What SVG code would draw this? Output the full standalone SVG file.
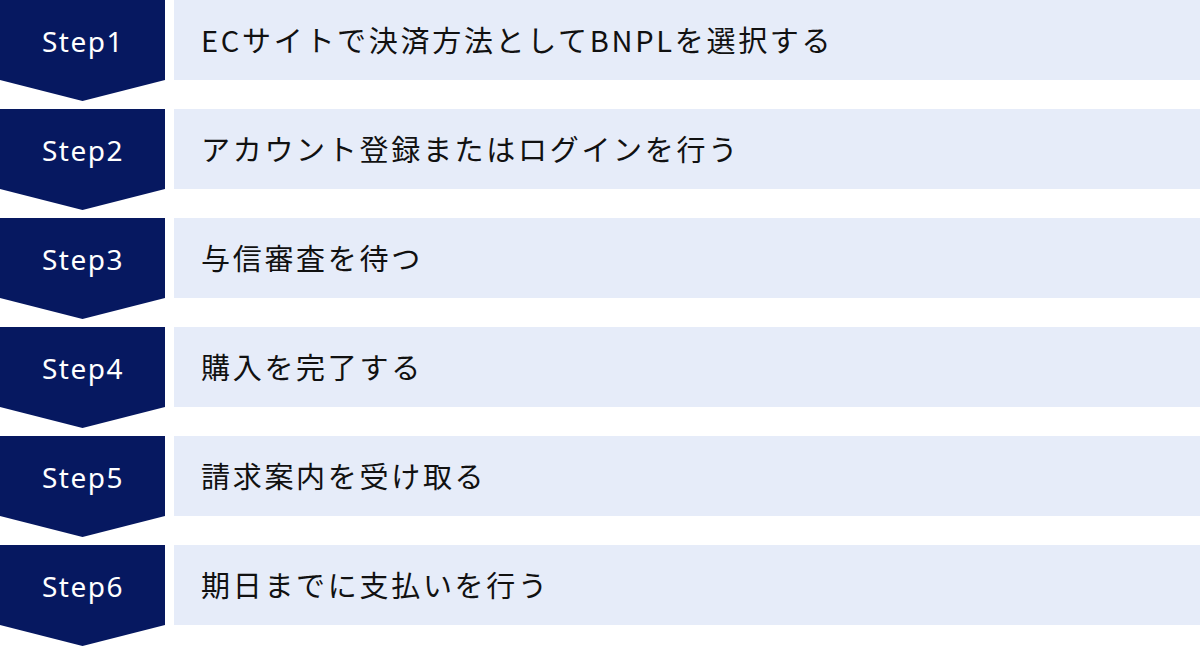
<svg xmlns="http://www.w3.org/2000/svg" width="1200" height="647" viewBox="0 0 1200 647">
<style>
.chev{fill:#061860}
.box{fill:#E6ECF9}
.step{font-family:"Noto Sans","Liberation Sans",sans-serif;font-size:28px;fill:#ffffff;text-anchor:middle;letter-spacing:1.5px}
.lbl{font-family:"Noto Sans CJK JP","Noto Sans",sans-serif;font-size:29px;fill:#111111;letter-spacing:2.7px}
</style>
<defs>
<polygon id="chevShape" points="0,0 165,0 165,80 82.5,101 0,80"/>
</defs>
<rect width="1200" height="647" fill="#ffffff"/>
<g id="connectors"></g>
<g id="step1" transform="translate(0,0)">
<use href="#chevShape" class="chev"/>
<rect class="box" x="174" y="0" width="1026" height="80"/>
<text class="step" x="83" y="52">Step1</text>
<text class="lbl" x="201" y="51.5">ECサイトで決済方法としてBNPLを選択する</text>
</g>
<g id="step2" transform="translate(0,109)">
<use href="#chevShape" class="chev"/>
<rect class="box" x="174" y="0" width="1026" height="80"/>
<text class="step" x="83" y="52">Step2</text>
<text class="lbl" x="201" y="51.5">アカウント登録またはログインを行う</text>
</g>
<g id="step3" transform="translate(0,218)">
<use href="#chevShape" class="chev"/>
<rect class="box" x="174" y="0" width="1026" height="80"/>
<text class="step" x="83" y="52">Step3</text>
<text class="lbl" x="201" y="51.5">与信審査を待つ</text>
</g>
<g id="step4" transform="translate(0,327)">
<use href="#chevShape" class="chev"/>
<rect class="box" x="174" y="0" width="1026" height="80"/>
<text class="step" x="83" y="52">Step4</text>
<text class="lbl" x="201" y="51.5">購入を完了する</text>
</g>
<g id="step5" transform="translate(0,436)">
<use href="#chevShape" class="chev"/>
<rect class="box" x="174" y="0" width="1026" height="80"/>
<text class="step" x="83" y="52">Step5</text>
<text class="lbl" x="201" y="51.5">請求案内を受け取る</text>
</g>
<g id="step6" transform="translate(0,545)">
<use href="#chevShape" class="chev"/>
<rect class="box" x="174" y="0" width="1026" height="80"/>
<text class="step" x="83" y="52">Step6</text>
<text class="lbl" x="201" y="51.5">期日までに支払いを行う</text>
</g>
</svg>
